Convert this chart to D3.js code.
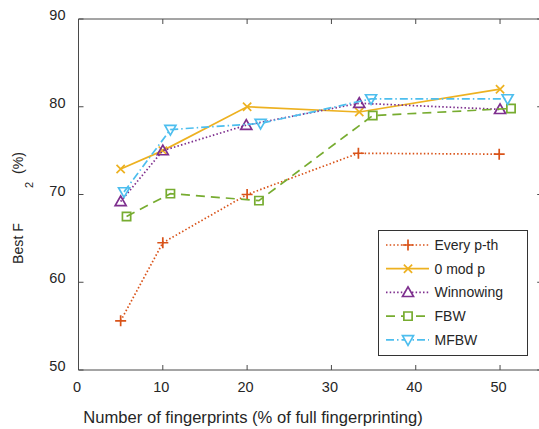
<!DOCTYPE html>
<html>
<head>
<meta charset="utf-8">
<script src="https://cdn.jsdelivr.net/npm/d3@7"></script>
<style>
  body { margin: 0; background: #fff; }
  svg text { font-family: "Liberation Sans", Arial, sans-serif; fill: #262626; }
</style>
</head>
<body>
<div id="master"></div>
<script>
// data
let xTicks = [0, 10, 20, 30, 40, 50]
let yTicks = [50, 60, 70, 80, 90]

let everyX = [5, 10, 20, 33.2, 49.9]
let everyY = [55.6, 64.5, 70.0, 74.7, 74.6]
let modX = [5, 10, 20, 33.3, 50]
let modY = [72.9, 75.0, 80.0, 79.4, 82.0]
let winX = [5, 10, 19.9, 33.3, 50]
let winY = [69.2, 75.0, 77.9, 80.4, 79.7]
let fbwX = [5.7, 10.9, 21.4, 34.9, 51.3]
let fbwY = [67.5, 70.1, 69.3, 79.0, 79.8]
let mfbwX = [5.4, 10.9, 21.6, 34.7, 50.9]
let mfbwY = [70.3, 77.4, 78.1, 80.9, 80.9]

let names = ["Every p-th", "0 mod p", "Winnowing", "FBW", "MFBW"]

let w = 539, h = 429
let svg = d3.select("#master").append("svg").attr("width", w).attr("height", h)

let xScale = d3.scaleLinear().domain([0, 55]).range([78.5, 542.2])
let yScale = d3.scaleLinear().domain([50, 90]).range([370, 19])

let series = [
  {name: names[0], xs: everyX, ys: everyY, color: "#D95319", dash: "1.5,2.2", marker: "plus"},
  {name: names[1], xs: modX, ys: modY, color: "#EDB120", dash: null, marker: "x"},
  {name: names[2], xs: winX, ys: winY, color: "#7E2F8E", dash: "1.5,2.2", marker: "tri"},
  {name: names[3], xs: fbwX, ys: fbwY, color: "#77AC30", dash: "9,6", marker: "square"},
  {name: names[4], xs: mfbwX, ys: mfbwY, color: "#4DBEEE", dash: "8,3,1.5,3", marker: "trid"}
]

// axes box
let ax = svg.append("g").attr("stroke", "#4a4a4a").attr("stroke-width", 1).attr("fill", "none")
let x0 = xScale(0), x1 = xScale(55), y0 = yScale(50), y1 = yScale(90)
ax.append("path").attr("d", `M${x0},${y1}V${y0}H${x1}M${x0},${y1}H${x1}V${y0}`)
xTicks.forEach(t => {
  ax.append("line").attr("x1", xScale(t)).attr("x2", xScale(t)).attr("y1", y0).attr("y2", y0 - 5)
  ax.append("line").attr("x1", xScale(t)).attr("x2", xScale(t)).attr("y1", y1).attr("y2", y1 + 5)
})
yTicks.forEach(t => {
  ax.append("line").attr("x1", x0).attr("x2", x0 + 5).attr("y1", yScale(t)).attr("y2", yScale(t))
  ax.append("line").attr("x1", x1).attr("x2", x1 - 5).attr("y1", yScale(t)).attr("y2", yScale(t))
})

// tick labels
svg.append("g").selectAll("text").data(xTicks).enter().append("text")
  .attr("x", d => xScale(d) - 1.5).attr("y", 391.5)
  .attr("text-anchor", "middle").attr("font-size", 14.5).text(d => d)
svg.append("g").selectAll("text").data(yTicks).enter().append("text")
  .attr("x", 65.5).attr("y", d => yScale(d) + 1)
  .attr("text-anchor", "end").attr("font-size", 14.5).text(d => d)

// axis titles
svg.append("text").attr("x", 253).attr("y", 423).attr("text-anchor", "middle")
  .attr("font-size", 16.6).text("Number of fingerprints (% of full fingerprinting)")
let yl = svg.append("text").attr("transform", "translate(23,0) rotate(-90)").attr("font-size", 14.2)
yl.append("tspan").attr("x", -264).attr("y", 0).text("Best F")
yl.append("tspan").attr("x", -188).attr("y", 10).attr("font-size", 11).text("2")
yl.append("tspan").attr("x", -174).attr("y", 0).text("(%)")

// markers
let markerPath = (type, s) => {
  if (type == "plus") return `M${-s},0H${s}M0,${-s}V${s}`
  if (type == "x") return `M${-s*0.75},${-s*0.75}L${s*0.75},${s*0.75}M${-s*0.75},${s*0.75}L${s*0.75},${-s*0.75}`
  if (type == "tri") return `M0,${-s}L${s},${s*0.75}L${-s},${s*0.75}Z`
  if (type == "trid") return `M0,${s}L${s},${-s*0.75}L${-s},${-s*0.75}Z`
  if (type == "square") return `M${-s*0.75},${-s*0.75}H${s*0.75}V${s*0.75}H${-s*0.75}Z`
}

let line = d3.line().x(d => xScale(d[0])).y(d => yScale(d[1]))
series.forEach(s => {
  let pts = s.xs.map((x, i) => [x, s.ys[i]])
  svg.append("path").datum(pts).attr("d", line)
    .attr("fill", "none").attr("stroke", s.color).attr("stroke-width", 1.7)
    .attr("stroke-dasharray", s.dash)
  svg.append("g").selectAll("path").data(pts).enter().append("path")
    .attr("transform", d => `translate(${xScale(d[0])},${yScale(d[1])})`)
    .attr("d", markerPath(s.marker, 5.5))
    .attr("fill", "none").attr("stroke", s.color).attr("stroke-width", 1.7)
})

// legend
let legend = svg.append("g").attr("id", "legend")
legend.append("rect").attr("x", 378.5).attr("y", 230.5).attr("width", 149).attr("height", 125)
  .attr("fill", "#fff").attr("stroke", "#333").attr("stroke-width", 1)
series.forEach((s, i) => {
  let ly = 245 + i * 23.7
  legend.append("line").attr("x1", 386).attr("x2", 429).attr("y1", ly).attr("y2", ly)
    .attr("stroke", s.color).attr("stroke-width", 1.7).attr("stroke-dasharray", s.dash)
  legend.append("path").attr("transform", `translate(408,${ly})`)
    .attr("d", markerPath(s.marker, 5.5))
    .attr("fill", "#fff").attr("stroke", s.color).attr("stroke-width", 1.7)
  legend.append("text").attr("x", 434.5).attr("y", ly + 5).attr("font-size", 14).text(s.name)
})
</script>
</body>
</html>
